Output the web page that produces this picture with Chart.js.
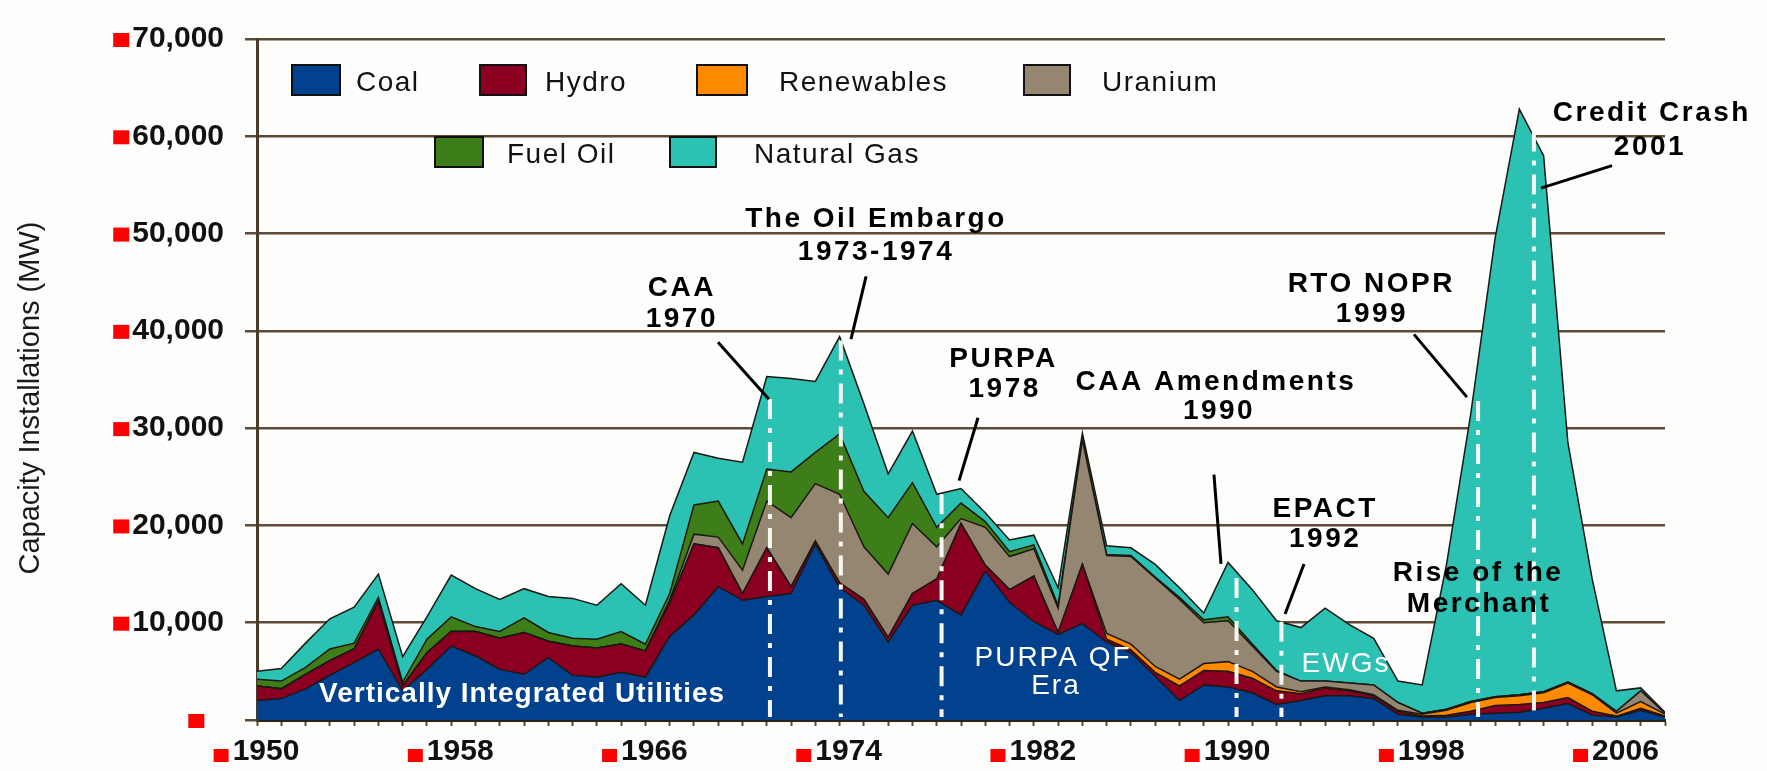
<!DOCTYPE html>
<html>
<head>
<meta charset="utf-8">
<script src="https://cdn.jsdelivr.net/npm/chart.js@4.4.1/dist/chart.umd.min.js"></script>
<style>
    html, body { margin: 0; padding: 0; background: #fdfdfb; overflow: hidden; }
    canvas { display: block; }
</style>
</head>
<body>
<canvas id="capacityChart" width="1767" height="771"></canvas>
<script>
// Years on the x axis
const years = [
    1950, 1951, 1952, 1953, 1954, 1955, 1956, 1957, 1958, 1959,
    1960, 1961, 1962, 1963, 1964, 1965, 1966, 1967, 1968, 1969,
    1970, 1971, 1972, 1973, 1974, 1975, 1976, 1977, 1978, 1979,
    1980, 1981, 1982, 1983, 1984, 1985, 1986, 1987, 1988, 1989,
    1990, 1991, 1992, 1993, 1994, 1995, 1996, 1997, 1998, 1999,
    2000, 2001, 2002, 2003, 2004, 2005, 2006, 2007, 2008
];
const xTickLabels = [1950, 1958, 1966, 1974, 1982, 1990, 1998, 2006];
const yTickValues = [0, 10000, 20000, 30000, 40000, 50000, 60000, 70000];
const yTickLabels = ['', '10,000', '20,000', '30,000', '40,000', '50,000', '60,000', '70,000'];

// Capacity installed per year (MW), by fuel
const coal = [
    2000, 2200, 3200, 4600, 5900, 7300, 3000, 5200, 7600, 6600,
    5200, 4700, 6400, 4600, 4400, 4900, 4400, 8600, 10800, 13700,
    12300, 12700, 13000, 18100, 13600, 11800, 8000, 11800, 12300, 10800,
    15300, 12100, 10100, 8800, 9900, 8000, 6900, 4500, 2000, 3600,
    3400, 2800, 1600, 2000, 2500, 2500, 2200, 600, 300, 300,
    600, 700, 800, 1200, 1700, 500, 300, 1000, 300
];
const hydro = [
    1500, 1000, 1500, 1500, 1400, 4900, 500, 1700, 1500, 2500,
    3200, 4300, 1700, 3000, 3000, 2900, 2700, 3400, 7300, 4000,
    700, 5000, 700, 300, 500, 600, 500, 1200, 2200, 9400,
    600, 1300, 4700, 200, 6100, 300, 300, 400, 1500, 1500,
    1600, 1500, 1400, 700, 800, 500, 300, 300, 100, 200,
    300, 800, 800, 600, 600, 400, 100, 200, 100
];
const renewables = [
    0, 0, 0, 0, 0, 0, 0, 0, 0, 0,
    0, 0, 0, 0, 0, 0, 0, 0, 0, 0,
    0, 0, 0, 0, 0, 0, 0, 0, 0, 0,
    0, 0, 0, 0, 0, 600, 600, 600, 700, 700,
    1000, 700, 400, 200, 100, 100, 100, 100, 200, 500,
    900, 800, 900, 1000, 1500, 1700, 300, 700, 200
];
const uranium = [
    0, 0, 0, 0, 0, 0, 0, 0, 0, 0,
    0, 0, 0, 0, 0, 0, 0, 300, 1000, 1100,
    2400, 4800, 7100, 5900, 9100, 5400, 6500, 7200, 3300, 500,
    3900, 3400, 2800, 2500, 12800, 8000, 9000, 9100, 8200, 4200,
    4200, 2600, 1600, 1100, 600, 700, 1000, 800, 100, 100,
    100, 100, 100, 100, 100, 100, 200, 1100, 100
];
const fuelOil = [
    700, 800, 700, 1200, 600, 400, 400, 1400, 1500, 500,
    700, 1500, 900, 800, 900, 1300, 700, 700, 3000, 3700,
    2700, 3300, 4700, 3200, 6200, 5700, 5800, 4200, 2000, 1600,
    600, 500, 400, 300, 100, 100, 100, 100, 200, 300,
    400, 200, 100, 0, 0, 0, 0, 0, 0, 0,
    0, 0, 0, 0, 0, 0, 0, 0, 0
];
const naturalGas = [
    800, 1300, 2500, 3100, 3700, 2400, 2600, 2300, 4300, 3900,
    3300, 3000, 3700, 4100, 3500, 4900, 4000, 8000, 5400, 4400,
    8400, 9500, 9600, 7300, 10000, 9000, 4500, 5300, 3400, 1500,
    900, 1200, 1000, 1800, 600, 900, 800, 1300, 1000, 700,
    5600, 5600, 5100, 5500, 7500, 6000, 4800, 2200, 2900, 14900,
    29600, 47100, 60200, 55100, 24600, 11800, 2100, 300, 100
];

const seriesNames = ['Coal', 'Hydro', 'Renewables', 'Uranium', 'Fuel Oil', 'Natural Gas'];
const seriesValues = [coal, hydro, renewables, uranium, fuelOil, naturalGas];
const seriesColors = ['#02418d', '#8b0021', '#ff8a00', '#958671', '#3e7e19', '#2cc2b3'];

// Event notes, placed in data coordinates (year, MW)
const noteTexts = [
    ['CAA', 1967.5, 44400], ['1970', 1967.5, 41150],
    ['The Oil Embargo', 1975.5, 51450], ['1973-1974', 1975.5, 48100],
    ['PURPA', 1980.75, 37100], ['1978', 1980.8, 34000],
    ['CAA Amendments', 1989.5, 34700], ['1990', 1989.63, 31770],
    ['EPACT', 1994.0, 21700], ['1992', 1994.0, 18560],
    ['RTO NOPR', 1995.9, 44800], ['1999', 1995.93, 41660],
    ['Credit Crash', 2007.46, 62340], ['2001', 2007.38, 58900],
    ['Rise of the', 2000.3, 15030], ['Merchant', 2000.34, 11900]
];
const noteLeaders = [
    [1968.99, 38830, 1971.09, 32980],
    [1975.09, 45590, 1974.47, 39140],
    [1979.70, 31070, 1978.92, 24610],
    [1989.42, 25220, 1989.71, 16040],
    [1993.13, 16040, 1992.35, 10890],
    [1997.66, 39640, 1999.84, 33190],
    [2005.82, 56990, 2002.89, 54670]
];
const eventMarkers = [
    [1971.13, 33000], [1974.05, 39000], [1978.2, 23200], [1990.35, 14600],
    [1992.2, 10100], [2000.3, 32800], [2002.6, 60500]
];
const eraTexts = [
    ['Vertically Integrated Utilities', 1960.92, 2620, 'bold'],
    ['PURPA QF', 1982.79, 6350, 'normal'],
    ['Era', 1982.91, 3430, 'normal'],
    ['EWGs', 1994.86, 5750, 'normal']
];

// Legend slots (pixel layout)
const legendSlots = [
    {box: [292, 65, 48, 30], textX: 356, textY: 83},
    {box: [480, 65, 46, 30], textX: 545, textY: 83},
    {box: [697, 65, 50, 30], textX: 779, textY: 83},
    {box: [1024, 65, 46, 30], textX: 1102, textY: 83},
    {box: [435, 137, 48, 30], textX: 507, textY: 155},
    {box: [670, 137, 46, 30], textX: 754, textY: 155}
];

const FONT = "'Liberation Sans', Arial, sans-serif";
const gridBrown = '#5d4b37';

const datasets = seriesNames.map((name, i) => ({
    label: name,
    data: years.map((yr, j) => ({x: yr, y: seriesValues[i][j]})),
    backgroundColor: seriesColors[i],
    borderColor: '#1b1712',
    borderWidth: 1.5,
    fill: i === 0 ? 'origin' : '-1',
    pointRadius: 0,
    tension: 0
}));

// Page background
const backgroundPlugin = {
    id: 'background',
    beforeDraw(chart) {
        const c = chart.ctx;
        c.save();
        c.fillStyle = '#fdfdfb';
        c.fillRect(0, 0, chart.width, chart.height);
        c.restore();
    }
};

// Red bullets next to tick labels, and the y axis title
const axisDecorPlugin = {
    id: 'axisDecor',
    afterDraw(chart) {
        const c = chart.ctx;
        const xs = chart.scales.x;
        const ys = chart.scales.y;
        c.save();
        c.font = 'bold 30px ' + FONT;
        c.fillStyle = '#ff0000';

        yTickValues.forEach((v, i) => {
            // the zero row has no text, only its bullet
            const w = c.measureText(yTickLabels[i] || '0').width;
            const right = ys.right - 12 - 21;
            const y = ys.getPixelForValue(v);
            c.fillRect(right - w - 3 - 16, y - 6, 16, 14);
        });

        xTickLabels.forEach(v => {
            const w = c.measureText(String(v)).width;
            const cx = xs.getPixelForValue(v) + 9;
            const top = chart.chartArea.bottom + 6 + 8;
            c.fillRect(cx - w / 2 - 4 - 15, top + 15, 15, 13);
        });

        c.fillStyle = '#1a1a1a';
        c.font = '29px ' + FONT;
        c.textAlign = 'center';
        c.textBaseline = 'middle';
        c.translate(31, 398);
        c.rotate(-Math.PI / 2);
        c.fillText('Capacity Installations (MW)', 0, 0);
        c.restore();
    }
};

// Legend, event markers and notes
const notesPlugin = {
    id: 'notes',
    afterDraw(chart) {
        const c = chart.ctx;
        const xs = chart.scales.x;
        const ys = chart.scales.y;
        const bottom = chart.chartArea.bottom;
        c.save();

        // white dash-dot markers
        c.strokeStyle = '#f6f6f2';
        c.lineWidth = 4;
        c.setLineDash([20, 9, 5, 9]);
        eventMarkers.forEach(([yr, top]) => {
            const x = xs.getPixelForValue(yr);
            c.beginPath();
            c.moveTo(x, ys.getPixelForValue(top));
            c.lineTo(x, bottom - 3);
            c.stroke();
        });
        c.setLineDash([]);

        // leader lines
        c.strokeStyle = '#000';
        c.lineWidth = 3;
        noteLeaders.forEach(([x1, y1, x2, y2]) => {
            c.beginPath();
            c.moveTo(xs.getPixelForValue(x1), ys.getPixelForValue(y1));
            c.lineTo(xs.getPixelForValue(x2), ys.getPixelForValue(y2));
            c.stroke();
        });

        c.textAlign = 'center';
        c.textBaseline = 'middle';

        // event labels
        c.fillStyle = '#000';
        c.font = 'bold 28px ' + FONT;
        c.letterSpacing = '2.5px';
        noteTexts.forEach(([txt, yr, v]) => {
            c.fillText(txt, xs.getPixelForValue(yr), ys.getPixelForValue(v));
        });

        // era labels inside the areas
        c.fillStyle = '#ffffff';
        eraTexts.forEach(([txt, yr, v, weight]) => {
            c.font = weight + ' 28px ' + FONT;
            c.letterSpacing = weight === 'bold' ? '1px' : '2px';
            c.fillText(txt, xs.getPixelForValue(yr), ys.getPixelForValue(v));
        });

        // legend
        c.textAlign = 'left';
        c.font = '28px ' + FONT;
        c.letterSpacing = '1.5px';
        legendSlots.forEach((slot, i) => {
            const [bx, by, bw, bh] = slot.box;
            c.fillStyle = seriesColors[i];
            c.fillRect(bx, by, bw, bh);
            c.strokeStyle = '#111';
            c.lineWidth = 2;
            c.strokeRect(bx, by, bw, bh);
            c.fillStyle = '#111';
            c.fillText(seriesNames[i], slot.textX, slot.textY);
        });
        c.letterSpacing = '0px';
        c.restore();
    }
};

const ctx = document.getElementById('capacityChart').getContext('2d');
const chart = new Chart(ctx, {
    type: 'line',
    data: {datasets: datasets},
    plugins: [backgroundPlugin, axisDecorPlugin, notesPlugin],
    options: {
        responsive: false,
        animation: false,
        events: [],
        layout: {padding: {left: 0, right: 102, top: 25, bottom: 0}},
        plugins: {
            legend: {display: false},
            tooltip: {enabled: false}
        },
        scales: {
            x: {
                type: 'linear',
                min: 1950,
                max: 2008,
                z: 1,
                afterBuildTicks: axis => { axis.ticks = years.map(v => ({value: v})); },
                afterFit: axis => { axis.height = 51; },
                grid: {
                    drawOnChartArea: false,
                    drawTicks: true,
                    tickLength: 6,
                    tickColor: gridBrown,
                    tickWidth: 2
                },
                border: {color: '#2c2216', width: 3},
                ticks: {
                    autoSkip: false,
                    maxRotation: 0,
                    minRotation: 0,
                    padding: 8,
                    labelOffset: 9,
                    color: '#111',
                    font: {family: FONT, size: 30, weight: 'bold'},
                    callback: v => xTickLabels.includes(v) ? String(v) : ''
                }
            },
            y: {
                stacked: true,
                min: 0,
                max: 70000,
                afterBuildTicks: axis => { axis.ticks = yTickValues.map(v => ({value: v})); },
                afterFit: axis => { axis.width = 257; },
                grid: {
                    color: gridBrown,
                    lineWidth: 2.5,
                    tickLength: 12
                },
                border: {color: '#4a3a28', width: 3},
                ticks: {
                    padding: 21,
                    color: '#111',
                    font: {family: FONT, size: 30, weight: 'bold'},
                    callback: (v, i) => yTickLabels[i]
                }
            }
        }
    }
});
</script>
</body>
</html>
